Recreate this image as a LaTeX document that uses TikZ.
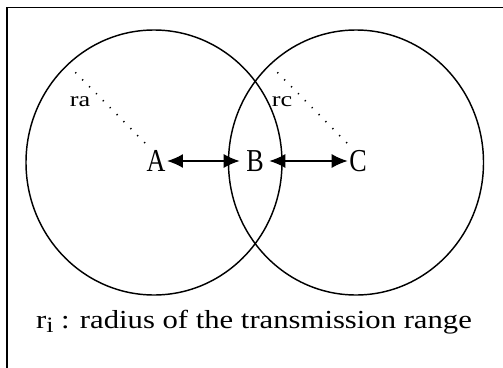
\documentclass[tikz,border=0pt]{standalone}
\usepackage{fontspec}
\setmainfont{Liberation Serif}
\usetikzlibrary{arrows.meta}
\begin{document}
\begin{tikzpicture}[x=1pt, y=-1pt, >={Latex[length=16pt, width=14pt]}, line width=1.45pt,
	every node/.style={inner sep=1pt},
	lbl/.style={font=\fontsize{29}{29}\selectfont, xscale=0.9, yscale=1.1, transform shape},
	rlbl/.style={font=\fontsize{21}{21}\selectfont, xscale=1.25, transform shape},
	radius line/.style={line width=1.6pt, dash pattern=on 1.2pt off 8.6pt}]
	\useasboundingbox (0,0) rectangle (503,367);
	% 1. 外框 (只见左边与上边)
	\draw[line width=1.8pt] (7,370) -- (7,7.5) -- (506,7.5);
	
	% 2. 两个传输范围圆
	\draw (154,162.5) ellipse [x radius=128pt, y radius=132.5pt]; % A 的范围
	\draw (356,162.5) ellipse [x radius=127.5pt, y radius=132.5pt]; % C 的范围
	
	% 3. 半径虚线与标注
	\draw[radius line] (145,143) -- (72,69);
	\draw[radius line] (347,143) -- (274,69);
	\node[rlbl] (ra) at (80,102) {ra};
	\node[rlbl] (rc) at (282,102) {rc};
	
	% 4. 节点与双向箭头
	\node[lbl] (A) at (156,161) {A};
	\node[lbl] (B) at (255,161) {B};
	\node[lbl] (C) at (358,161) {C};
	\draw[<->, line width=1.7pt] (A.east) -- ([xshift=-5pt]B.west);
	\draw[<->, line width=1.7pt] ([xshift=4pt]B.east) -- (C.west);
	
	% 5. 图注
	\node[font=\fontsize{26}{26}\selectfont, xscale=1.18, transform shape] (note) at (254,322)
		{r\raisebox{-4.5pt}{\fontsize{22}{22}\selectfont i} : radius of the transmission range};
\end{tikzpicture}
\end{document}
